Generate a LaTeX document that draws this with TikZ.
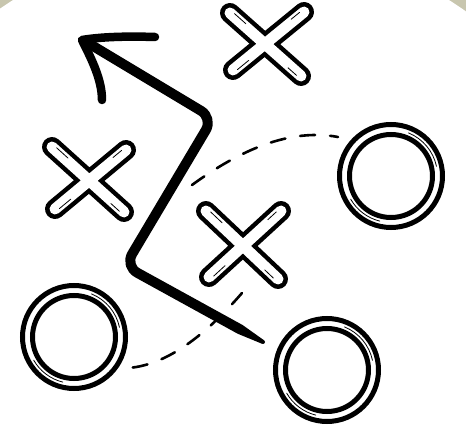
\documentclass[tikz,border=0pt]{standalone}
\usetikzlibrary{calc}
\definecolor{bgolive}{RGB}{200,198,174}
\newcommand\ringmark[1]{%
  \draw[ring] (#1) circle[radius=51.5];
  \draw[ring] (#1) circle[radius=41.5];
  \draw[hl] (#1) ++(-68:46.5) arc[start angle=-68,end angle=-12,radius=46.5];
  \draw[hl] (#1) ++(104:46.5) arc[start angle=104,end angle=150,radius=46.5];
}
\newcommand\xmk[4]{%
  \coordinate (a1) at #1; \coordinate (a2) at #2;
  \coordinate (b1) at #3; \coordinate (b2) at #4;
  \draw[xout] (a1)--(a2) (b1)--(b2);
  \draw[xin] (a1)--(a2) (b1)--(b2);
  \draw[hl] ($(a1)!0.04!(a2)!2.5pt!90:(a2)$) -- ($(a1)!0.20!(a2)!2.5pt!90:(a2)$);
  \draw[hl] ($(a2)!0.04!(a1)!2.5pt!90:(a1)$) -- ($(a2)!0.16!(a1)!2.5pt!90:(a1)$);
  \draw[hl] ($(b1)!0.04!(b2)!2.5pt!-90:(b2)$) -- ($(b1)!0.16!(b2)!2.5pt!-90:(b2)$);
  \draw[hl] ($(b2)!0.04!(b1)!2.5pt!-90:(b1)$) -- ($(b2)!0.20!(b1)!2.5pt!-90:(b1)$);
}
\begin{document}
\begin{tikzpicture}[x=1pt,y=-1pt,
  xout/.style={line width=20pt,line cap=round,black},
  xin/.style={line width=11pt,line cap=round,white},
  ring/.style={line width=5pt,black},
  hl/.style={line width=0.8pt,black,line cap=round},
  dsh/.style={line width=2.6pt,line cap=round,dash pattern=on 15pt off 15pt},
  shaft/.style={line width=10pt,line cap=round,line join=round},
  head/.style={line width=8.5pt,line cap=round,line join=round}]
\useasboundingbox (0,0) rectangle (466,430);
\begin{scope}
  \clip (0,0) rectangle (466,430);
  \fill[bgolive] (0,0) rectangle (466,430);
  \fill[white] (231,345) circle[radius=408];
\end{scope}
% dashed routes
\coordinate (d1s) at (192,185); \coordinate (d1e) at (338,137);
\coordinate (d2s) at (242,293); \coordinate (d2e) at (128,368);
\draw[dsh] (d1s) .. controls (240,150) and (290,128) .. (d1e);
\draw[dsh] (d2s) .. controls (210,330) and (170,365) .. (d2e);
% circles
\coordinate (c1) at (391,176);
\coordinate (c2) at (74,337);
\coordinate (c3) at (327,370);
\ringmark{c1}
\ringmark{c2}
\ringmark{c3}
% crosses
\xmk{(230,13)}{(301,76)}{(304,12)}{(233,70)}
\xmk{(52,147)}{(124,212)}{(126,150)}{(55,209)}
\xmk{(206,211)}{(278,279)}{(281,211)}{(209,277)}
% arrow
\coordinate (tip) at (82,40);
\coordinate (h1) at (155,37);
\coordinate (h2) at (102,100);
\coordinate (s0) at (88,43);
\coordinate (s1) at (213,118);
\coordinate (s2) at (125,266);
\coordinate (s3) at (240,329.3);
\coordinate (send) at (263,342);
\draw[shaft,rounded corners=14pt] (s0) -- (s1) -- (s2) -- (s3);
\fill (237.6,333.7) -- (262.0,343.75) -- (264.0,340.25) -- (242.4,324.9) -- cycle;
\fill (send) circle[radius=2];
\draw[head] (h1) .. controls (125,36) and (100,37) .. (tip)
  .. controls (92,60) and (102,80) .. (h2);
\end{tikzpicture}
\end{document}
